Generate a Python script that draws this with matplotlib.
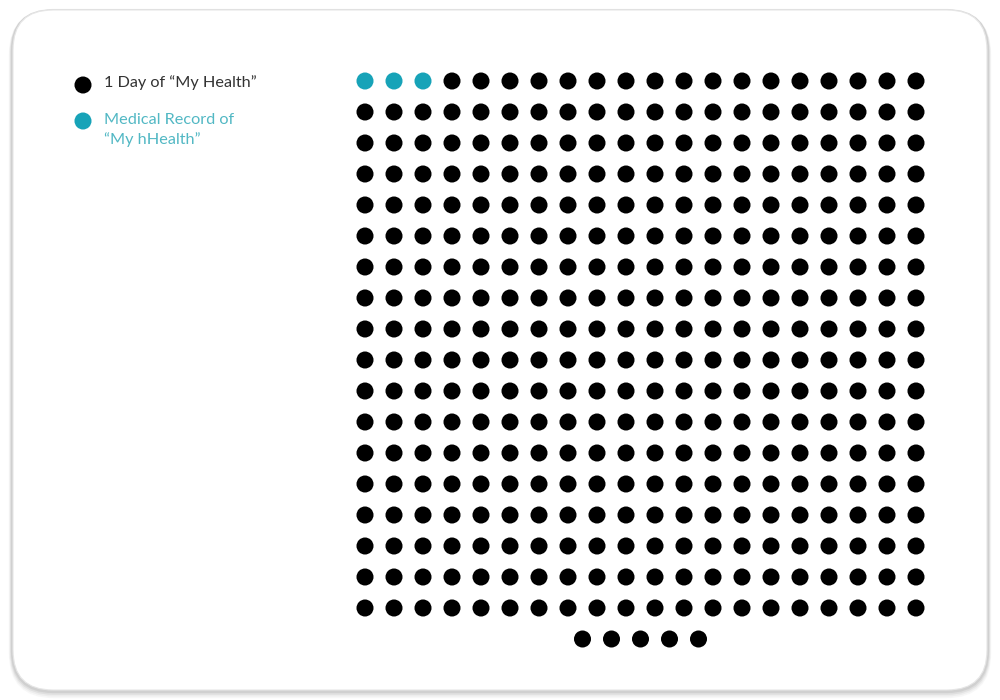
import matplotlib.pyplot as plt
import numpy as np
from matplotlib.patches import FancyBboxPatch

# data
N_DAYS = 365
N_RECORD_DAYS = 3
N_COLS = 20
LEGEND_LABELS = ["1 Day of \u201cMy Health\u201d", "Medical Record of\n\u201cMy hHealth\u201d"]
DAY_COLOR = "#000000"
RECORD_COLOR = "#17a3b8"
RECORD_TEXT_COLOR = "#52b8c4"

fig = plt.figure(figsize=(10, 7), dpi=100)
ax = fig.add_axes([0, 0, 1, 1])
ax.set_xlim(0, 1000)
ax.set_ylim(700, 0)
ax.axis("off")

# card with soft shadow
for off, alpha in [(4, 0.06), (3, 0.08), (2, 0.12), (1, 0.15)]:
    ax.add_patch(FancyBboxPatch((13 + 40, 10 + 40 + off), 974 - 80, 680 - 80,
                                boxstyle="round,pad=40", fc="none",
                                ec=(0.5, 0.5, 0.5, alpha), lw=2 + off))
ax.add_patch(FancyBboxPatch((13 + 40, 10 + 40), 974 - 80, 680 - 80,
                            boxstyle="round,pad=40", fc="white", ec="#e6e6e6", lw=0.8))

# dot grid
x0, dx = 365, 29.0
y0, dy = 81, 31.0
idx = np.arange(N_DAYS)
n_full = (N_DAYS // N_COLS) * N_COLS
col = idx % N_COLS
row = idx // N_COLS
xs = x0 + col * dx
ys = y0 + row * dy
rest = N_DAYS - n_full
if rest:
    shift = (N_COLS - rest) / 2 * dx
    xs[n_full:] = x0 + shift + np.arange(rest) * dx
colors = [RECORD_COLOR if i < N_RECORD_DAYS else DAY_COLOR for i in idx]
dot_s = 17 ** 2 * 0.52
ax.scatter(xs, ys, s=dot_s, c=colors, edgecolors="none", zorder=3)

# legend
ax.scatter([83], [85], s=dot_s, c=DAY_COLOR, edgecolors="none", zorder=3)
ax.scatter([83], [121], s=dot_s, c=RECORD_COLOR, edgecolors="none", zorder=3)
ax.text(104, 83, LEGEND_LABELS[0], fontsize=11.7, color="#333333", va="center",
        ha="left", family="Lato")
ax.text(104, 113, LEGEND_LABELS[1], fontsize=11.7, color=RECORD_TEXT_COLOR, va="top",
        ha="left", family="Lato", linespacing=1.4)

fig.savefig("out.png", dpi=100)
